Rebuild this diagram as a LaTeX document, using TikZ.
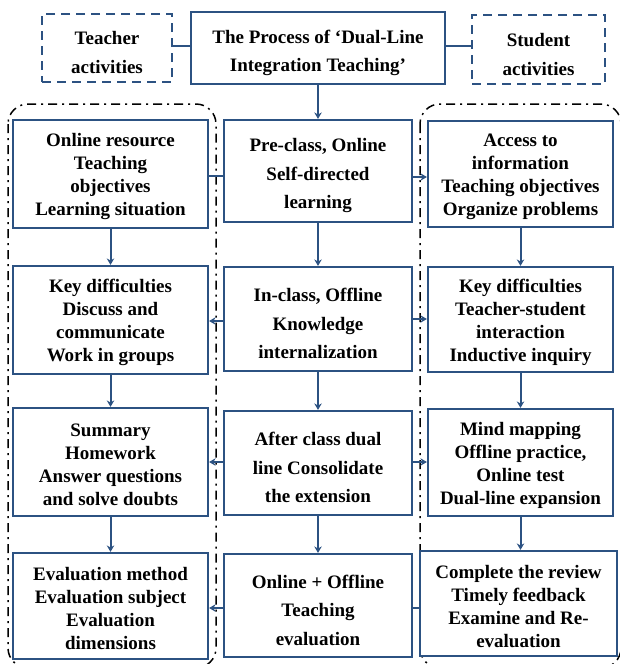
\documentclass[tikz,border=0pt]{standalone}
\usepackage{fontspec}
\setmainfont{Liberation Serif}
\usetikzlibrary{arrows.meta}
\definecolor{dblue}{RGB}{44,82,130}
% extra room above the first text line, so the text sits a little lower
\newcommand\sidegap{\rule{0pt}{19pt}}
\newcommand\midgap{\rule{0pt}{23pt}}
\tikzset{
  box/.style={draw=dblue, line width=2.2pt, align=center, inner sep=0pt,
    font=\bfseries\fontsize{19}{23}\selectfont},
  midbox/.style={box, font=\bfseries\fontsize{19}{28.5}\selectfont},
  roleBox/.style={draw=dblue, line width=2.2pt, dash pattern=on 9pt off 6pt,
    align=center, inner sep=0pt, font=\bfseries\fontsize{19}{29}\selectfont},
  frame/.style={draw=black, line width=1.5pt, rounded corners=20pt,
    dash pattern=on 9pt off 5pt on 2pt off 5pt},
  link/.style={draw=dblue, line width=2pt},
  flow/.style={link, -{Stealth[length=6.5pt,width=7.5pt]}}
}
\begin{document}
\begin{tikzpicture}[x=1pt,y=-1pt]
\useasboundingbox (0,0) rectangle (619,664);
% dash-dot groupings of the two activity columns
\draw[frame] (8,104) rectangle (216,668);
\draw[frame] (420,104) rectangle (621,668);

% header
\node[midbox, minimum width=254pt, minimum height=72pt] (title) at (318,48)
  {\midgap The Process of ‘Dual-Line\\Integration Teaching’};
\node[roleBox, minimum width=130pt, minimum height=68pt] (teacher) at (107,48)
  {\midgap Teacher\\activities};
\node[roleBox, minimum width=133pt, minimum height=69pt] (student) at (538.5,49.5)
  {\midgap Student\\activities};

% teacher column
\node[box, fill=white, minimum width=195pt, minimum height=108pt] (l1) at (110.5,174)
  {\sidegap Online resource\\Teaching\\objectives\\Learning situation};
\node[box, fill=white, minimum width=195pt, minimum height=108pt] (l2) at (110.5,320)
  {\sidegap Key difficulties\\Discuss and\\communicate\\Work in groups};
\node[box, fill=white, minimum width=195pt, minimum height=108pt] (l3) at (110.5,462)
  {\sidegap Summary\\Homework\\Answer questions\\and solve doubts};
\node[box, fill=white, minimum width=195pt, minimum height=106pt] (l4) at (110.5,606)
  {\sidegap Evaluation method\\Evaluation subject\\Evaluation\\dimensions};

% process column
\node[midbox, minimum width=188pt, minimum height=102pt] (c1) at (318,171)
  {\midgap Pre-class, Online\\Self-directed\\learning};
\node[midbox, minimum width=188pt, minimum height=104pt] (c2) at (318,319)
  {\midgap In-class, Offline\\Knowledge\\internalization};
\node[midbox, minimum width=188pt, minimum height=104pt] (c3) at (318,463)
  {\midgap After class dual\\line Consolidate\\the extension};
\node[midbox, minimum width=188pt, minimum height=103pt] (c4) at (318,605.5)
  {\midgap Online + Offline\\Teaching\\evaluation};

% student column
\node[box, fill=white, minimum width=185pt, minimum height=106pt] (r1) at (520.5,174)
  {\sidegap Access to\\information\\Teaching objectives\\Organize problems};
\node[box, fill=white, minimum width=185pt, minimum height=105pt] (r2) at (520.5,319.5)
  {\sidegap Key difficulties\\Teacher-student\\interaction\\Inductive inquiry};
\node[box, fill=white, minimum width=185pt, minimum height=107pt] (r3) at (520.5,462.5)
  {\sidegap Mind mapping\\Offline practice,\\Online test\\Dual-line expansion};
\node[box, fill=white, minimum width=197pt, minimum height=105pt] (r4) at (518.5,603.5)
  {\sidegap Complete the review\\Timely feedback\\Examine and Re-\\evaluation};

% header links
\draw[link] (title.west |- 0,46) -- (teacher.east |- 0,46);
\draw[link] (title.east |- 0,46) -- (student.west |- 0,46);
\draw[flow] (title.south) -- (c1.north);

% downward flow in each column
\draw[flow] (l1.south) -- (l2.north);
\draw[flow] (l2.south) -- (l3.north);
\draw[flow] (l3.south) -- (l4.north);
\draw[flow] (c1.south) -- (c2.north);
\draw[flow] (c2.south) -- (c3.north);
\draw[flow] (c3.south) -- (c4.north);
\draw[flow] (r1.south) -- (r2.north);
\draw[flow] (r2.south) -- (r3.north);
\draw[flow] (r3.south) -- (r3.south |- r4.north);

% links from the process to the two activity columns
\draw[link] (c1.west |- 0,176) -- (l1.east |- 0,176);
\draw[flow] (c2.west |- 0,321) -- (l2.east |- 0,321);
\draw[flow] (c3.west |- 0,462) -- (l3.east |- 0,462);
\draw[flow] (c4.west |- 0,608) -- (l4.east |- 0,608);
\draw[flow] (c1.east |- 0,177) -- (r1.west |- 0,177);
\draw[flow] (c2.east |- 0,319) -- (r2.west |- 0,319);
\draw[flow] (c3.east |- 0,462) -- (r3.west |- 0,462);
\draw[link] (c4.east |- 0,608) -- (r4.west |- 0,608);
\end{tikzpicture}
\end{document}
